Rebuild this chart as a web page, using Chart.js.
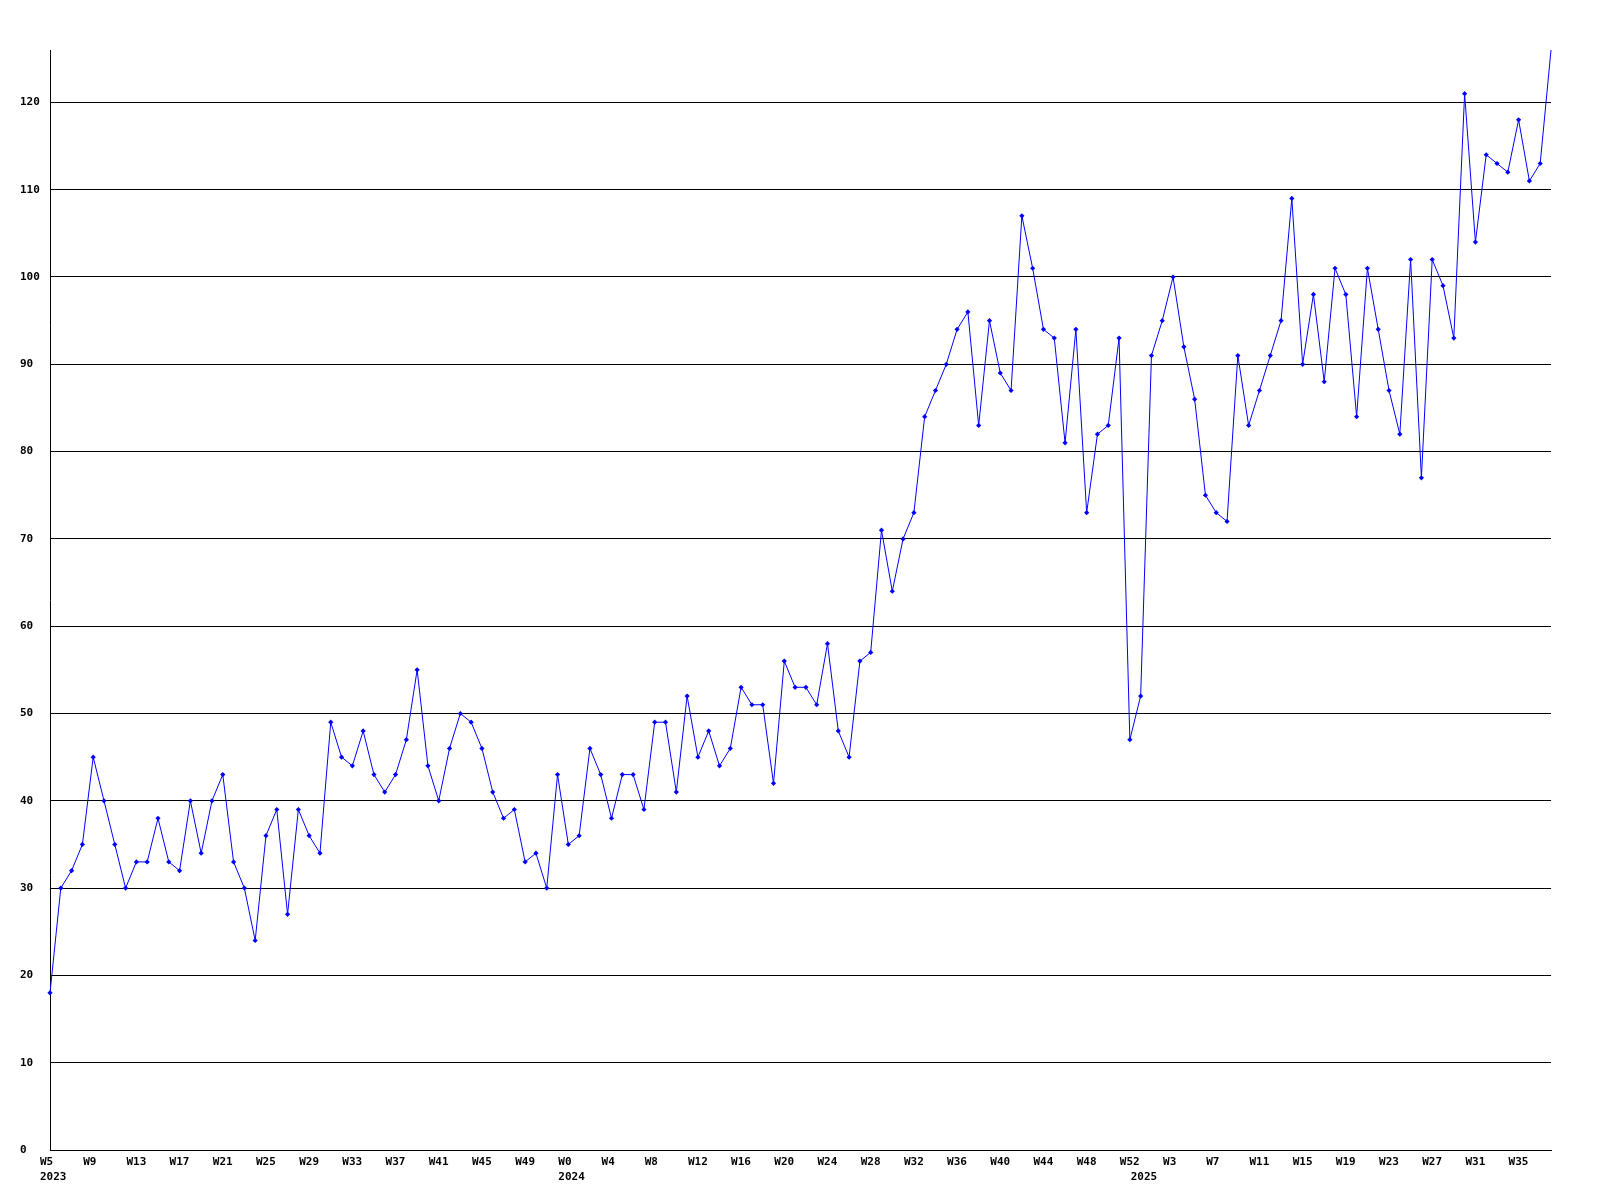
<!DOCTYPE html>
<html>
<head>
<meta charset="utf-8">
<script src="https://cdn.jsdelivr.net/npm/chart.js@4/dist/chart.umd.min.js"></script>
<style>
  html, body { margin: 0; padding: 0; background: #fff; }
  #wrap { width: 1600px; height: 1200px; }
</style>
</head>
<body>
<div id="wrap"><canvas id="weekly-chart" width="1600" height="1200"></canvas></div>
<script>
  // years on the x axis and the first / last week shown for each
  const years = [2023, 2024, 2025];
  const firstWeeks = [5, 0, 0];
  const lastWeeks = [52, 52, 38];

  // weekly counts, W5 2023 .. W38 2025
  const counts = [
    18, 30, 32, 35, 45, 40, 35, 30, 33, 33, 38, 33, 32, 40, 34, 40, 43, 33, 30, 24,
    36, 39, 27, 39, 36, 34, 49, 45, 44, 48, 43, 41, 43, 47, 55, 44, 40, 46, 50, 49,
    46, 41, 38, 39, 33, 34, 30, 43, 35, 36, 46, 43, 38, 43, 43, 39, 49, 49, 41, 52,
    45, 48, 44, 46, 53, 51, 51, 42, 56, 53, 53, 51, 58, 48, 45, 56, 57, 71, 64, 70,
    73, 84, 87, 90, 94, 96, 83, 95, 89, 87, 107, 101, 94, 93, 81, 94, 73, 82, 83, 93,
    47, 52, 91, 95, 100, 92, 86, 75, 73, 72, 91, 83, 87, 91, 95, 109, 90, 98, 88, 101,
    98, 84, 101, 94, 87, 82, 102, 77, 102, 99, 93, 121, 104, 114, 113, 112, 118, 111, 113, 126
  ];

  const yTickStep = 10;
  const labelEvery = 4;

  // build the week categories and remember where each year starts
  const categories = [];
  const yearAt = {};
  years.forEach(function(y, i) {
    yearAt[categories.length] = String(y);
    for (let w = firstWeeks[i]; w <= lastWeeks[i]; w++) {
      categories.push('W' + w);
    }
  });

  const tickFont = { family: "'DejaVu Sans Mono', monospace", size: 11, weight: 'bold', lineHeight: 1.41 };

  const ctx = document.getElementById('weekly-chart').getContext('2d');
  const chart = new Chart(ctx, {
    type: 'line',
    data: {
      labels: categories,
      datasets: [{
        data: counts,
        borderColor: '#0000ff',
        backgroundColor: '#0000ff',
        borderWidth: 1,
        tension: 0,
        fill: false,
        pointStyle: 'rectRot',
        // the last point sits on the top edge, the original draws no marker there
        pointRadius: function(c) { return c.dataIndex === counts.length - 1 ? 0 : 2.6; },
        pointBorderWidth: 0,
        pointBackgroundColor: '#0000ff'
      }]
    },
    options: {
      responsive: false,
      animation: false,
      devicePixelRatio: 1,
      layout: { padding: { left: 20, right: 49, top: 50, bottom: 15 } },
      plugins: {
        legend: { display: false },
        tooltip: { enabled: false }
      },
      scales: {
        x: {
          grid: { display: false, drawTicks: false },
          border: { display: true, color: '#000', width: 1 },
          afterFit: function(s) { s.height = 35; },
          ticks: {
            autoSkip: false,
            maxRotation: 0,
            align: 'start',
            labelOffset: -10,
            padding: 4,
            color: '#000',
            font: tickFont,
            callback: function(value, index) {
              const first = index % labelEvery === 0 ? categories[index] : '';
              if (yearAt[index]) return [first, yearAt[index]];
              return first;
            }
          }
        },
        y: {
          min: 0,
          max: Math.max.apply(null, counts),
          grid: { color: '#000', lineWidth: 1, drawTicks: false },
          border: { display: true, color: '#000', width: 1 },
          afterFit: function(s) { s.width = 30; },
          ticks: {
            stepSize: yTickStep,
            includeBounds: false,
            crossAlign: 'far',
            padding: 10,
            color: '#000',
            font: tickFont
          }
        }
      }
    }
  });
</script>
</body>
</html>
